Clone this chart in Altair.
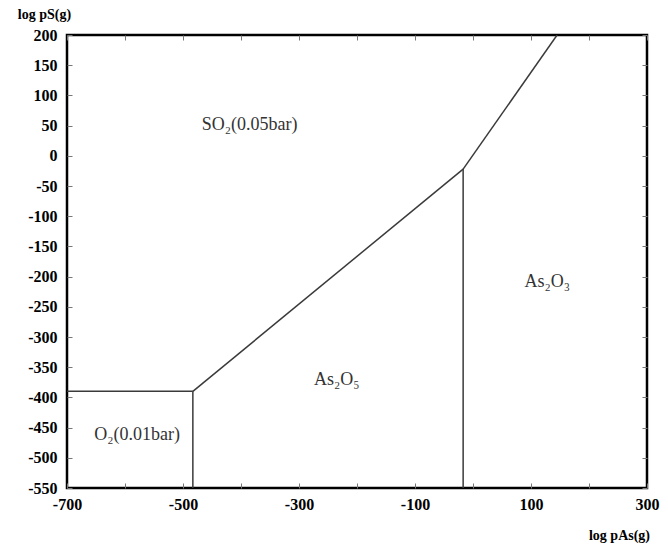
import altair as alt
import pandas as pd

# Axis tick values
x_ticks = [-700, -600, -500, -400, -300, -200, -100, 0, 100, 200, 300]
y_ticks = [-550, -500, -450, -400, -350, -300, -250, -200, -150, -100,
           -50, 0, 50, 100, 150, 200]

# Phase-boundary segments (pairs of end points)
seg_id = ["a", "a", "b", "b", "c", "c", "d", "d", "e", "e"]
seg_ord = [0, 1, 0, 1, 0, 1, 0, 1, 0, 1]
seg_x = [-700, -483, -483, -483, -483, -17, -17, -17, -17, 145]
seg_y = [-390, -390, -550, -390, -390, -22, -550, -22, -22, 200]

# Region labels
region_text = ["SO₂(0.05bar)", "O₂(0.01bar)", "As₂O₅", "As₂O₃"]
region_x = [-385, -579, -235, 128]
region_y = [51, -462, -371, -209]

segs = pd.DataFrame({"seg": seg_id, "o": seg_ord, "x": seg_x, "y": seg_y})
regions = pd.DataFrame({"t": region_text, "x": region_x, "y": region_y})

FONT = "Liberation Serif"
xs = alt.Scale(domain=[-700, 300], nice=False, zero=False)
ys = alt.Scale(domain=[-550, 200], nice=False, zero=False)

common = dict(
    grid=False, domain=False, labelFlush=False,
    tickSize={"expr": "-5"}, tickColor="#777", tickWidth=1,
    labelFont=FONT, labelFontWeight="bold", labelFontSize=16, labelColor="black",
)

x_bottom = alt.Axis(
    orient="bottom", values=x_ticks,
    labelExpr="datum.value % 200 == 0 ? '' : toString(datum.value)",
    labelPadding=13, title="log pAs(g)", titleFont=FONT, titleFontWeight="bold",
    titleFontSize=14, titleColor="black", titleX=552, titleY=47, titleAlign="center",
    titleBaseline="middle", **common)
y_left = alt.Axis(
    orient="left", values=y_ticks, labelExpr="toString(datum.value)",
    labelPadding=15, title="log pS(g)", titleFont=FONT,
    titleFontWeight="bold", titleFontSize=14, titleColor="black", titleAngle=0,
    titleX=-23, titleY=-21, titleAlign="center", titleBaseline="middle", **common)
x_top = alt.Axis(orient="top", values=x_ticks, labels=False, title=None, **common)
y_right = alt.Axis(orient="right", values=y_ticks, labels=False, title=None, **common)

lines = alt.Chart(segs).mark_line(color="#3a3a3a", strokeWidth=1.5, clip=True).encode(
    x=alt.X("x:Q", scale=xs, axis=x_bottom),
    y=alt.Y("y:Q", scale=ys, axis=y_left),
    detail="seg:N",
    order="o:O",
)

texts = alt.Chart(regions).mark_text(font=FONT, fontSize=18, color="#333").encode(
    x=alt.X("x:Q", scale=xs, axis=x_top),
    y=alt.Y("y:Q", scale=ys, axis=y_right),
    text="t:N",
)

chart = alt.layer(lines, texts).resolve_axis(x="independent", y="independent").properties(
    width=580, height=453,
    padding={"left": 59, "top": 27, "right": 13, "bottom": 57},
    autosize=alt.AutoSizeParams(type="none"),
).configure_view(stroke="black", strokeWidth=2.5)

chart.save("out.html", embed_options={"renderer": "svg", "actions": False})
